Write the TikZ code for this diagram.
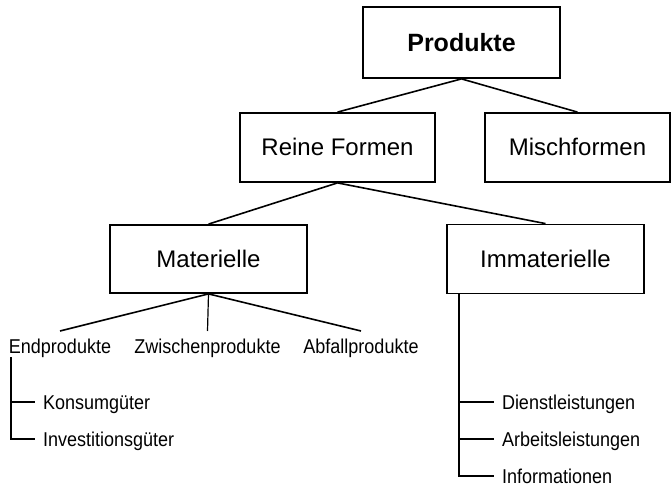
\documentclass[tikz,border=0pt]{standalone}
\usepackage{fontspec}
\setmainfont{Liberation Sans}
\newfontfamily\lblfont{Liberation Sans}[FakeStretch=0.9]
\begin{document}
\begin{tikzpicture}[x=1pt,y=-1pt,
  box/.style={draw, line width=1.8pt, inner sep=0pt, font=\fontsize{24}{28}\selectfont, text height=17pt, text depth=0pt},
  lbl/.style={inner sep=0pt, outer sep=8pt, font=\lblfont\fontsize{20}{23}\selectfont, text height=14pt, text depth=0pt},
  conn/.style={line width=1.6pt},
  thin conn/.style={line width=1.2pt}]
\useasboundingbox (0,0) rectangle (672,486);
% boxes
\node[box, font=\fontsize{25}{30}\selectfont\bfseries, text height=18pt, minimum width=197pt, minimum height=71pt] (P) at (461.5,42.5) {Produkte};
\node[box, minimum width=195pt, minimum height=69pt] (RF) at (337.5,147.5) {Reine Formen};
\node[box, minimum width=185pt, minimum height=69pt] (MF) at (577.5,147.5) {Mischformen};
\node[box, minimum width=197pt, minimum height=68pt] (MA) at (208.5,259) {Materielle};
\node[box, minimum width=197pt, minimum height=69pt] (IM) at (545.5,259) {Immaterielle};
% leaves under Materielle
\node[lbl, anchor=base] (EP) at (60,353) {Endprodukte};
\node[lbl, anchor=base] (ZP) at (207.5,353) {Zwischenprodukte};
\node[lbl, anchor=base] (AP) at (361,353) {Abfallprodukte};
\node[lbl, anchor=west] (KG) at (35,402) {Konsumgüter};
\node[lbl, anchor=west] (IG) at (35,439) {Investitionsgüter};
% leaves under Immaterielle
\node[lbl, anchor=west] (DL) at (494,402) {Dienstleistungen};
\node[lbl, anchor=west] (AL) at (494,439) {Arbeitsleistungen};
\node[lbl, anchor=west] (IF) at (494,476) {Informationen};
\coordinate (eL) at (11,357);
\coordinate (iL) at ([xshift=13pt]IM.south west);
% connectors
\draw[conn] (P.south) -- (RF.north);
\draw[conn] (P.south) -- (MF.north);
\draw[conn] (RF.south) -- (MA.north);
\draw[conn] (RF.south) -- (IM.north);
\draw[conn] (MA.south) -- (EP.north);
\draw[thin conn] (MA.south) -- (ZP.north);
\draw[conn] (MA.south) -- (AP.north);
\draw[conn] (eL) |- (IG.west);
\draw[conn] (eL |- KG.west) -- (KG.west);
\draw[conn] (iL) |- (IF.west);
\draw[conn] (iL |- DL.west) -- (DL.west);
\draw[conn] (iL |- AL.west) -- (AL.west);
\end{tikzpicture}
\end{document}
